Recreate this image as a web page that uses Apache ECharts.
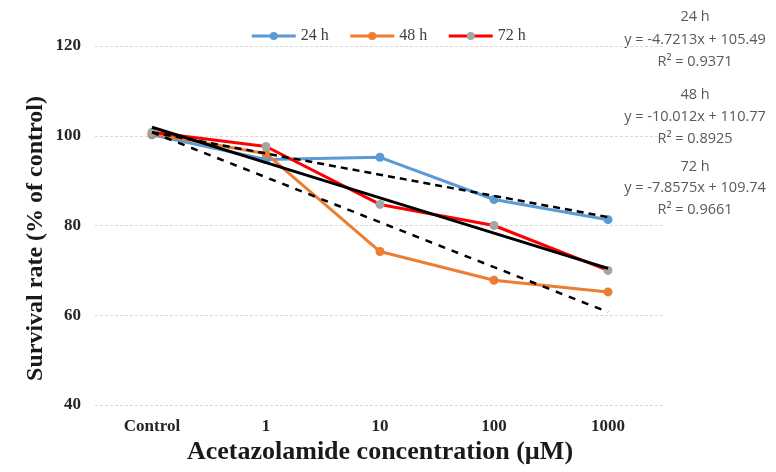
<!DOCTYPE html>
<html><head><meta charset="utf-8">
<script src="https://cdn.jsdelivr.net/npm/echarts@6/dist/echarts.min.js"></script>
<style>html,body{margin:0;padding:0;background:#fff}#c{width:776px;height:472px}</style>
</head><body><div id="c"></div>
<script>
const categories = ['Control', '1', '10', '100', '1000'];
const h24 = [100.2, 94.7, 95.2, 85.8, 81.3];
const h48 = [100.5, 96.0, 74.2, 67.8, 65.2];
const h72 = [100.8, 97.6, 84.7, 80.0, 70.0];
const seriesNames = ['24 h', '48 h', '72 h'];
const trendSlope = [-4.7213, -10.012, -7.8575];
const trendIntercept = [105.49, 110.77, 109.74];
const trendR2 = ['0.9371', '0.8925', '0.9661'];
const yTicks = [40, 60, 80, 100, 120];

function trend(i) {
  return categories.map((c, k) => +(trendSlope[i] * (k + 1) + trendIntercept[i]).toFixed(3));
}

const chart = echarts.init(document.getElementById('c'));
const serif = '"Liberation Serif", "Times New Roman", serif';
const sans = '"Open Sans", "Liberation Sans", sans-serif';
const annY = [[17, 40, 62], [95, 117, 139], [167, 188, 210]];
const graphics = [];
for (let i = 0; i < 3; i++) {
  const lines = [seriesNames[i], 'y = ' + trendSlope[i] + 'x + ' + trendIntercept[i], 'R\u00b2 = ' + trendR2[i]];
  lines.forEach((t, j) => graphics.push({
    type: 'text', x: 695, y: annY[i][j],
    style: { text: t, fill: '#595959', font: '14.5px ' + sans, textAlign: 'center', textVerticalAlign: 'middle' }
  }));
}

const colors = ['#5b9bd5', '#ed7d31', '#ff0000'];
const markerColors = ['#5b9bd5', '#ed7d31', '#a5a5a5'];
const dataSets = [h24, h48, h72];

const series = dataSets.map((d, i) => ({
  name: seriesNames[i], type: 'line', data: d, z: 2,
  symbol: 'circle', symbolSize: 9,
  lineStyle: { color: colors[i], width: 3 },
  itemStyle: { color: markerColors[i] },
  emphasis: { disabled: true }
}));
const trendStyles = [
  { type: [7, 5], width: 2.5 },
  { type: [7, 7], width: 2.5 },
  { type: 'solid', width: 3 }
];
for (let i = 0; i < 3; i++) {
  series.push({
    name: 'trend' + i, type: 'line', data: trend(i), z: 3,
    symbol: 'none', silent: true,
    lineStyle: Object.assign({ color: '#000' }, trendStyles[i]),
    emphasis: { disabled: true }
  });
}

chart.setOption({
  animation: false,
  backgroundColor: '#fff',
  graphic: graphics,
  legend: {
    data: seriesNames.map((n, i) => ({ name: n, itemStyle: { color: markerColors[i] }, lineStyle: { color: colors[i], width: 3 } })),
    top: 23, left: 'center', itemWidth: 44, itemHeight: 10, itemGap: 20,
    textStyle: { fontFamily: serif, fontSize: 16, color: '#404040' }
  },
  grid: { left: 95, right: 111, top: 46, bottom: 67 },
  xAxis: {
    type: 'category', data: categories, boundaryGap: true,
    axisLine: { show: false }, axisTick: { show: false },
    axisLabel: { margin: 13, fontFamily: serif, fontWeight: 'bold', fontSize: 17, color: '#262626' },
    name: 'Acetazolamide concentration (\u00b5M)', nameLocation: 'middle', nameGap: 34,
    nameMoveOverlap: false,
    nameTextStyle: { fontFamily: serif, fontWeight: 'bold', fontSize: 26, color: '#1a1a1a' }
  },
  yAxis: {
    type: 'value', min: yTicks[0], max: yTicks[yTicks.length - 1], interval: 20,
    axisLine: { show: false }, axisTick: { show: false },
    splitLine: { lineStyle: { color: '#d9d9d9', type: [3, 2], width: 1 } },
    axisLabel: { margin: 14, fontFamily: serif, fontWeight: 'bold', fontSize: 17, color: '#262626' },
    name: 'Survival rate (% of control)', nameLocation: 'middle', nameGap: 47, nameRotate: 90,
    nameMoveOverlap: false,
    nameTextStyle: { fontFamily: serif, fontWeight: 'bold', fontSize: 24, color: '#1a1a1a', padding: [0, 26, 0, 0] }
  },
  series: series
});
</script></body></html>
